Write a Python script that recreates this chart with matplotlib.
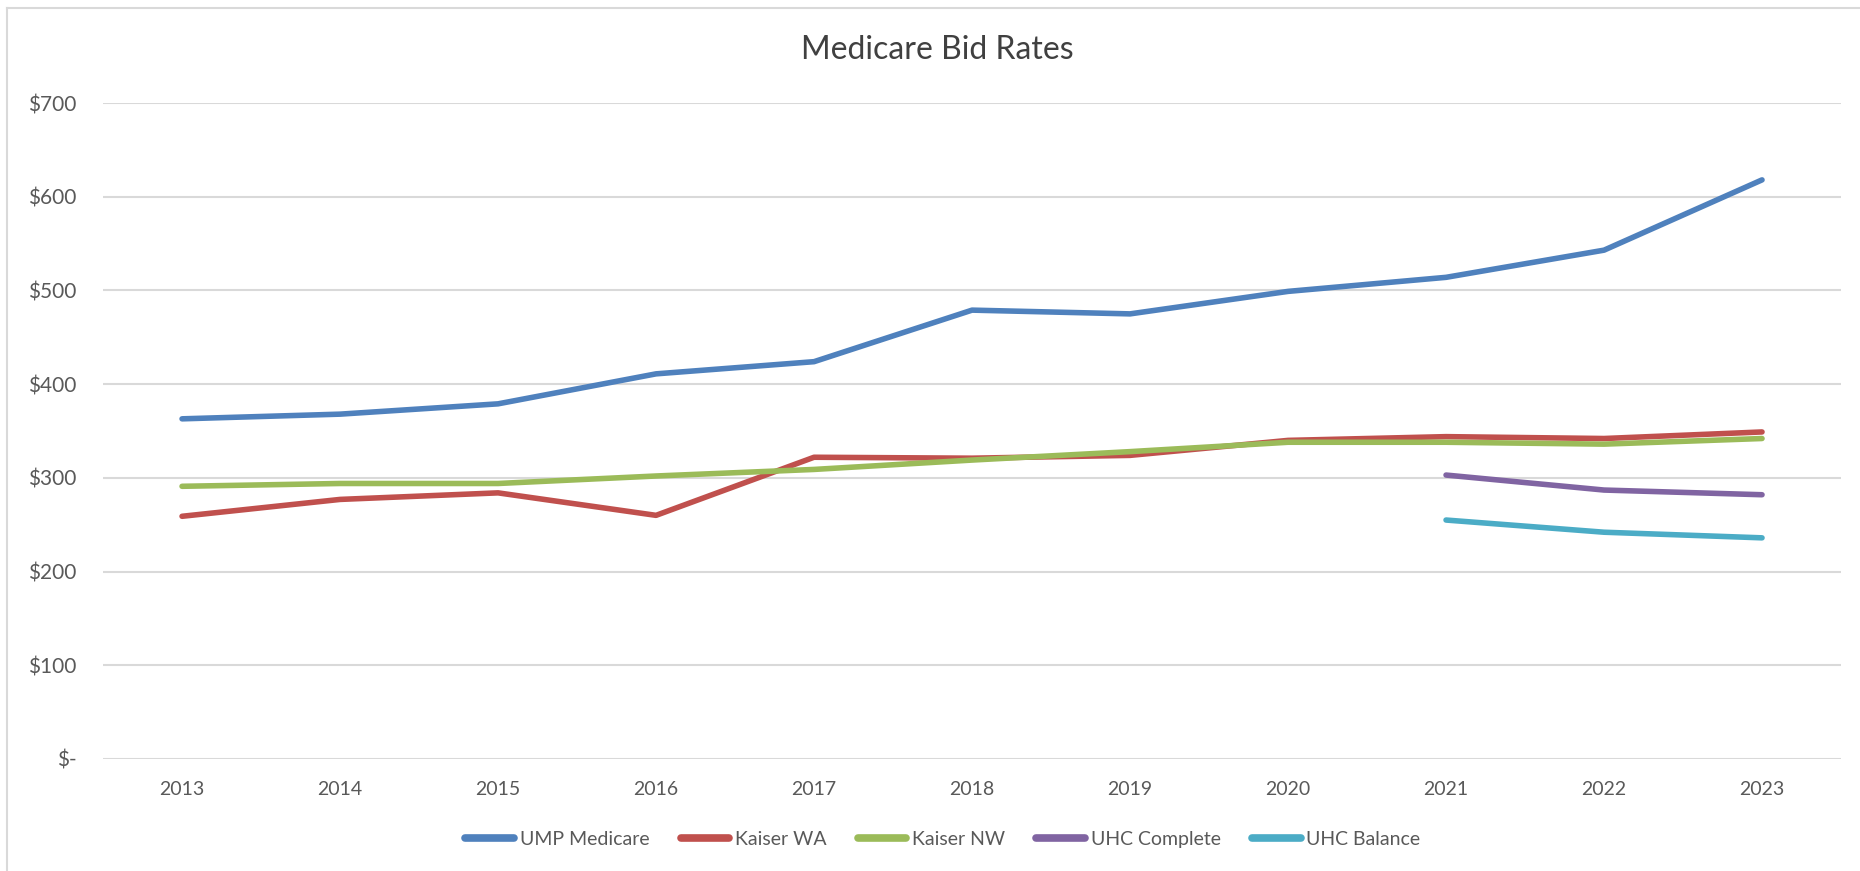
import matplotlib
matplotlib.use("Agg")
import matplotlib.pyplot as plt
from matplotlib.lines import Line2D
import numpy as np

plt.rcParams["font.family"] = ["Lato", "DejaVu Sans"]

years = ["2013", "2014", "2015", "2016", "2017", "2018", "2019", "2020", "2021", "2022", "2023"]

ump_medicare = [363, 368, 379, 411, 424, 479, 475, 499, 514, 543, 618]
kaiser_wa = [259, 277, 284, 260, 322, 321, 324, 340, 344, 342, 349]
kaiser_nw = [291, 294, 294, 302, 309, 319, 328, 338, 338, 336, 342]
uhc_complete = [None] * 8 + [303, 287, 282]
uhc_balance = [None] * 8 + [255, 242, 236]

series_names = ["UMP Medicare", "Kaiser WA", "Kaiser NW", "UHC Complete", "UHC Balance"]
colors = ["#4F81BD", "#C0504D", "#9BBB59", "#8064A2", "#4BACC6"]

fig = plt.figure(figsize=(18.6, 8.71), dpi=100)
ax = fig.add_axes([0.0554, 0.1286, 0.9344, 0.7531])

x = np.arange(len(years))
handles = []
for vals, name, c in zip([ump_medicare, kaiser_wa, kaiser_nw, uhc_complete, uhc_balance], series_names, colors):
    y = np.array([np.nan if v is None else v for v in vals], dtype=float)
    ax.plot(x, y, color=c, lw=4, solid_capstyle="round", solid_joinstyle="round", zorder=3)
    handles.append(Line2D([], [], color=c, lw=5.5, solid_capstyle="round", label=name))

ax.set_xlim(-0.5, len(years) - 0.5)
ax.set_ylim(0, 700)
ax.set_xticks(x)
ax.set_xticklabels(years)
ax.set_yticks(range(0, 701, 100))
ax.set_yticklabels(["$-"] + [f"${v}" for v in range(100, 701, 100)])
ax.yaxis.grid(True, color="#D9D9D9", lw=1.5)
ax.set_axisbelow(True)
for s in ax.spines.values():
    s.set_visible(False)
ax.tick_params(axis="both", length=0, labelsize=14, colors="#595959")
ax.tick_params(axis="y", labelsize=15, pad=19)
ax.tick_params(axis="x", pad=16)

fig.text(0.504, 0.9426, "Medicare Bid Rates", ha="center", va="center", fontsize=23, color="#404040")

fig.legend(handles=handles, loc="center", bbox_to_anchor=(0.507, 0.0367), ncol=5, frameon=False,
           fontsize=14, handlelength=2.5, handletextpad=0.3, columnspacing=1.6, labelcolor="#595959")

# chart border (left and top edges visible in the screenshot)
fig.add_artist(Line2D([0.0038, 0.0038], [0, 0.991], transform=fig.transFigure, color="#D9D9D9", lw=1.5))
fig.add_artist(Line2D([0.0038, 1.0], [0.991, 0.991], transform=fig.transFigure, color="#D9D9D9", lw=1.5))

fig.savefig("out.png", dpi=100)
